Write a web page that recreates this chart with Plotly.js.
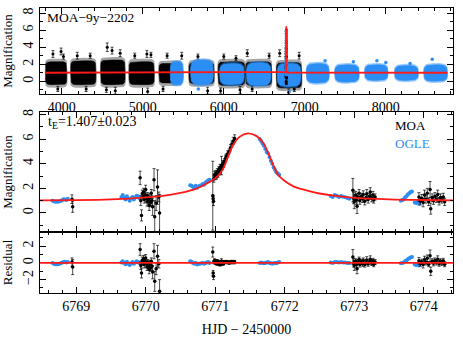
<!DOCTYPE html>
<html>
<head>
<meta charset="utf-8">
<script src="https://cdn.plot.ly/plotly-3.0.1.min.js"></script>
<style>
  html, body { margin: 0; padding: 0; background: white; }
  #chart { width: 463px; height: 341px; }
</style>
</head>
<body>
<div id="chart"></div>
<script>
// --- overview panel: observing seasons (HJD-2450000) and the spread of the cloud ---
const moaSeasonStart = [3800, 4110, 4480, 4830, 5200, 5570, 5930, 6270, 6650];
const moaSeasonEnd   = [4060, 4420, 4780, 5140, 5480, 5880, 6260, 6590, 6960];
const moaSeasonLo    = [-0.4, -0.4, -0.4, -0.4, -0.2, -0.3, -0.5, -0.5, -0.8];
const moaSeasonHi    = [2.3, 2.4, 2.5, 2.3, 2.1, 2.2, 2.3, 2.3, 2.2];

const ogleSeasonStart = [5340, 5590, 5950, 6280, 6660, 7020, 7370, 7740, 8110, 8470];
const ogleSeasonEnd   = [5500, 5870, 6250, 6580, 6950, 7300, 7670, 8025, 8400, 8760];
const ogleSeasonLo    = [-0.4, -0.4, -0.4, -0.5, -0.6, -0.2, -0.1, 0.1, 0.1, 0.0];
const ogleSeasonHi    = [2.3, 2.5, 2.1, 2.2, 2.1, 2.1, 1.95, 1.95, 1.85, 1.95];

// stray points sticking out of the clouds
const topMoaT = [3890, 3990, 4020, 3950, 4190, 4350, 4300, 4560, 4620, 4720, 4550, 4660, 4900, 5050, 5100, 5060,
                 5300, 5480, 5250, 5680, 5800, 6000, 6150, 6200, 5960, 6290, 6560, 6350, 6690, 6930, 6800, 6870];
const topMoaA = [3.2, 3.5, 2.9, -0.9, 3.0, 3.0, -0.9, 4.0, 3.6, 3.3, -1.0, -1.1, 3.0, 3.2, 3.1, -1.2,
                 3.0, 3.0, -0.9, 2.9, -1.1, 2.9, 2.7, -1.0, -1.1, 3.3, 3.0, -0.9, 3.3, 3.0, -1.3, -0.9];
const topMoaE = [0.4, 0.4, 0.3, 0.3, 0.4, 0.3, 0.3, 0.5, 0.4, 0.4, 0.3, 0.4, 0.3, 0.4, 0.3, 0.4,
                 0.3, 0.4, 0.3, 0.3, 0.4, 0.3, 0.3, 0.4, 0.3, 0.4, 0.3, 0.3, 0.4, 0.4, 0.4, 0.3];
const topOgleT = [5685, 6806, 7250, 7890, 8000, 8573, 8300, 7600];
const topOgleA = [-0.9, -1.2, 2.4, 2.4, 2.2, 2.6, 2.1, 2.3];

// --- best-fit model (magnification) ---
const modelT = [6768.40, 6769.00, 6769.50, 6770.00, 6770.30, 6770.50, 6770.73, 6770.87, 6771.01, 6771.11,
                6771.18, 6771.25, 6771.35, 6771.47, 6771.59, 6771.69, 6771.76, 6771.83, 6771.90, 6772.00,
                6772.14, 6772.30, 6772.50, 6772.70, 6773.00, 6773.50, 6774.00, 6774.45];
const modelA = [1.02, 1.04, 1.10, 1.26, 1.42, 1.62, 1.98, 2.37, 2.86, 3.54,
                4.49, 5.44, 6.18, 6.47, 6.26, 5.71, 4.90, 3.94, 3.13, 2.59,
                2.12, 1.85, 1.58, 1.40, 1.22, 1.10, 1.05, 1.02];
const baselineT = [3800, 8760];

// --- OGLE photometry around the peak ---
const ogleT = [6768.66, 6768.68, 6768.70, 6768.72, 6768.74, 6768.76, 6768.78, 6768.80, 6768.82, 6768.84, 6768.86, 6768.88,
               6769.65, 6769.67, 6769.69, 6769.71, 6769.73, 6769.75, 6769.77, 6769.79, 6769.81, 6769.83, 6769.85, 6769.87, 6769.89, 6769.91,
               6770.64, 6770.66, 6770.68, 6770.70, 6770.72, 6770.74, 6770.76, 6770.78, 6770.80, 6770.82, 6770.84, 6770.86, 6770.88, 6770.90, 6770.92,
               6771.64, 6771.66, 6771.68, 6771.70, 6771.72, 6771.74, 6771.76, 6771.78, 6771.80, 6771.82, 6771.84, 6771.86, 6771.88, 6771.90, 6771.92,
               6772.66, 6772.69, 6772.72, 6772.75, 6772.78, 6772.81, 6772.84, 6772.87, 6772.90, 6772.93,
               6773.67, 6773.69, 6773.71, 6773.73, 6773.75, 6773.77, 6773.79, 6773.81, 6773.83, 6773.87, 6773.89, 6773.91, 6773.93];
const ogleA = [1.00, 0.95, 0.90, 0.92, 0.90, 0.95, 0.98, 1.05, 1.12, 1.10, 1.05, 1.15,
               1.30, 1.45, 1.25, 1.10, 1.35, 1.15, 1.00, 1.20, 1.30, 1.10, 1.25, 1.40, 1.35, 1.20,
               2.25, 2.20, 2.10, 2.05, 2.20, 2.05, 2.15, 2.20, 2.25, 2.35, 2.30, 2.45, 2.55, 2.65, 2.70,
               6.00, 5.85, 5.65, 5.45, 5.20, 4.95, 4.85, 4.55, 4.25, 4.00, 3.70, 3.50, 3.30, 3.20, 3.10,
               1.38, 1.30, 1.45, 1.40, 1.30, 1.38, 1.32, 1.28, 1.22, 1.15,
               1.00, 1.05, 1.10, 1.25, 1.35, 1.50, 1.60, 1.70, 1.75, 0.85, 0.80, 0.90, 0.75];
const ogleRes = [0.00, -0.10, -0.15, -0.15, -0.15, -0.10, -0.05, 0.05, 0.10, 0.15, 0.05, 0.10,
                 0.05, 0.20, 0.00, -0.15, 0.15, -0.10, -0.25, -0.05, 0.10, -0.10, 0.05, 0.20, 0.10, -0.05,
                 0.20, 0.15, 0.00, -0.10, 0.00, -0.20, -0.10, -0.10, -0.05, 0.00, -0.10, 0.00, 0.05, 0.10, 0.00,
                 0.00, 0.05, 0.00, -0.05, 0.00, 0.05, 0.10, 0.00, -0.05, -0.10, -0.05, 0.00, -0.05, 0.05, 0.10,
                 0.05, 0.00, 0.10, 0.10, 0.05, 0.10, 0.05, 0.05, 0.00, 0.00,
                 -0.05, 0.00, 0.05, 0.20, 0.30, 0.45, 0.55, 0.65, 0.70, -0.20, -0.25, -0.15, -0.30];

// --- MOA photometry around the peak ---
const moaT = [6768.94, 6768.95,
              6769.92, 6769.93, 6769.94, 6769.95, 6769.96, 6769.97, 6769.98, 6769.99, 6770.00, 6770.01, 6770.02, 6770.03,
              6770.04, 6770.05, 6770.06, 6770.07, 6770.08, 6770.09, 6770.10, 6770.12, 6770.13, 6770.15, 6770.17, 6770.19, 6770.20,
              6770.965, 6770.97, 6770.975, 6770.98, 6770.99, 6771.00, 6771.01, 6771.02, 6771.03, 6771.04, 6771.05, 6771.06,
              6771.07, 6771.08, 6771.09, 6771.10, 6771.11, 6771.12, 6771.13, 6771.15, 6771.16, 6771.18, 6771.20, 6771.22,
              6771.24, 6771.26, 6771.28,
              6772.98, 6772.99, 6773.00, 6773.02, 6773.03, 6773.04, 6773.05, 6773.07, 6773.08, 6773.10, 6773.12, 6773.13,
              6773.15, 6773.17, 6773.18, 6773.20, 6773.22, 6773.23, 6773.25, 6773.27, 6773.28, 6773.30,
              6773.93, 6773.95, 6773.97, 6773.99, 6774.01, 6774.03, 6774.05, 6774.07, 6774.09, 6774.10, 6774.12, 6774.14,
              6774.16, 6774.18, 6774.20, 6774.22, 6774.24, 6774.26, 6774.28, 6774.30];
const moaA = [1.12, 0.50,
              2.85, 1.00, -0.20, 1.55, 1.30, 1.70, 1.10, 1.45, 1.90, 1.20, 0.90, 1.40,
              1.05, 0.60, 1.25, 0.85, 1.60, 1.00, 0.50, 2.70, -0.30, 0.80, 2.10, 1.30, 0.00,
              1.40, 1.15, 0.95, 2.75, 3.10, 2.90, 3.20, 2.95, 3.35, 3.10, 3.50, 3.30,
              3.70, 3.50, 3.85, 3.70, 4.00, 3.90, 4.20, 4.45, 4.60, 4.80, 5.00, 5.30,
              5.60, 5.85, 6.05,
              1.85, 1.20, 0.90, 1.45, 1.05, 0.55, 1.30, 1.60, 1.00, 1.35, 1.15, 1.50,
              0.95, 1.25, 1.55, 1.10, 1.35, 1.70, 1.20, 1.45, 1.05, 1.30,
              1.30, 0.95, 1.20, 0.85, 1.45, 1.10, 1.60, 0.90, 1.90, 0.35, 1.25, 1.00,
              1.35, 1.10, 1.50, 0.95, 1.25, 1.05, 1.30, 0.90];
const moaErr = [0.35, 0.45,
                0.55, 0.40, 0.45, 0.30, 0.25, 0.30, 0.30, 0.25, 0.35, 0.30, 0.35, 0.25,
                0.30, 0.40, 0.30, 0.35, 0.30, 0.40, 0.70, 0.90, 1.30, 0.60, 1.40, 0.40, 1.50,
                2.80, 0.30, 0.35, 0.25, 0.30, 0.20, 0.25, 0.20, 0.25, 0.20, 0.25, 0.20,
                0.25, 0.20, 0.75, 0.20, 0.25, 0.20, 0.20, 0.25, 0.20, 0.25, 0.20, 0.25,
                0.25, 0.30, 0.30,
                0.95, 0.45, 0.55, 0.30, 0.35, 0.60, 0.30, 0.30, 0.30, 0.25, 0.30, 0.30,
                0.30, 0.25, 0.35, 0.30, 0.25, 0.35, 0.30, 0.30, 0.25, 0.25,
                0.35, 0.30, 0.30, 0.35, 0.40, 0.30, 0.40, 0.30, 0.65, 0.45, 0.30, 0.30,
                0.30, 0.25, 0.35, 0.30, 0.30, 0.25, 0.30, 0.30];
const moaRes = [0.10, -0.50,
                1.60, -0.30, -1.20, 0.30, 0.00, 0.50, -0.20, 0.20, 0.60, -0.10, -0.50, 0.10,
                -0.30, -0.80, -0.10, -0.60, 0.20, -0.40, -1.10, 1.40, -2.20, -0.70, 0.80, -0.10, -3.40,
                1.30, -1.20, -1.60, 0.10, 0.30, 0.00, 0.20, -0.10, 0.20, -0.10, 0.10, -0.20,
                0.10, -0.20, 0.20, -0.10, 0.10, -0.10, 0.10, 0.10, 0.10, 0.10, 0.00, 0.10,
                0.10, 0.10, 0.10,
                0.70, 0.00, -0.30, 0.20, -0.20, -0.70, 0.10, 0.40, -0.20, 0.15, -0.10, 0.30,
                -0.20, 0.05, 0.35, -0.10, 0.15, 0.45, 0.00, 0.25, -0.15, 0.10,
                0.25, -0.10, 0.15, -0.20, 0.40, 0.05, 0.55, -0.15, 0.85, -1.00, 0.20, -0.05,
                0.30, 0.05, 0.45, -0.10, 0.20, 0.00, 0.25, -0.15];
const moaResErr = [0.5, 0.9,
                   0.7, 0.5, 0.6, 0.4, 0.3, 0.4, 0.4, 0.3, 0.4, 0.4, 0.4, 0.3,
                   0.4, 0.5, 0.4, 0.4, 0.4, 0.5, 0.8, 0.9, 1.2, 0.7, 1.3, 0.5, 1.4,
                   0.6, 0.3, 0.4, 0.2, 0.2, 0.15, 0.2, 0.15, 0.2, 0.15, 0.2, 0.15,
                   0.2, 0.15, 0.3, 0.15, 0.2, 0.15, 0.15, 0.2, 0.15, 0.2, 0.15, 0.2,
                   0.2, 0.2, 0.2,
                   0.9, 0.5, 0.6, 0.3, 0.4, 0.6, 0.3, 0.3, 0.3, 0.3, 0.3, 0.3,
                   0.3, 0.3, 0.4, 0.3, 0.3, 0.4, 0.3, 0.3, 0.3, 0.3,
                   0.4, 0.3, 0.3, 0.4, 0.4, 0.3, 0.4, 0.3, 0.7, 0.5, 0.3, 0.3,
                   0.3, 0.3, 0.4, 0.3, 0.3, 0.3, 0.3, 0.3];

const SERIF = 'Liberation Serif, Times New Roman, serif';
const BLUE = '#2b8ef5';
const RED = '#ff1a1a';

// outline of a season's point cloud, a rounded box around its extent
function cloud(s, e, lo, hi, p) {
    const cx = (s + e) / 2, hw = (e - s) / 2, cy = (lo + hi) / 2, hh = (hi - lo) / 2;
    const xs = [], ys = [];
    for (let k = 0; k <= 48; k++) {
        const th = 2 * Math.PI * k / 48, c = Math.cos(th), sn = Math.sin(th);
        xs.push(cx + hw * Math.sign(c) * Math.pow(Math.abs(c), p));
        ys.push(cy + hh * Math.sign(sn) * Math.pow(Math.abs(sn), p));
    }
    return { xs, ys };
}

const traces = [];

// MOA clouds: a soft fringe of scattered points, then the dense core
moaSeasonStart.forEach((s, i) => {
    const halo = cloud(s - 10, moaSeasonEnd[i] + 10, moaSeasonLo[i] - 0.35, moaSeasonHi[i] + 0.35, 0.3);
    traces.push({ x: halo.xs, y: halo.ys, xaxis: 'x', yaxis: 'y', mode: 'lines', fill: 'toself',
        fillcolor: 'rgba(0,0,0,0.35)', line: { width: 0 } });
    const c = cloud(s, moaSeasonEnd[i], moaSeasonLo[i], moaSeasonHi[i], 0.3);
    traces.push({ x: c.xs, y: c.ys, xaxis: 'x', yaxis: 'y', mode: 'lines', fill: 'toself',
        fillcolor: '#000', line: { color: '#000', width: 0.5 } });
});
traces.push({ x: topMoaT, y: topMoaA, xaxis: 'x', yaxis: 'y', mode: 'markers', type: 'scatter',
    marker: { color: '#000', size: 3 },
    error_y: { type: 'data', array: topMoaE, color: '#000', thickness: 0.7, width: 1.5 } });

ogleSeasonStart.forEach((s, i) => {
    const halo = cloud(s - 8, ogleSeasonEnd[i] + 8, ogleSeasonLo[i] - 0.2, ogleSeasonHi[i] + 0.2, 0.55);
    traces.push({ x: halo.xs, y: halo.ys, xaxis: 'x', yaxis: 'y', mode: 'lines', fill: 'toself',
        fillcolor: 'rgba(43,142,245,0.45)', line: { width: 0 } });
    const c = cloud(s, ogleSeasonEnd[i], ogleSeasonLo[i], ogleSeasonHi[i], 0.55);
    traces.push({ x: c.xs, y: c.ys, xaxis: 'x', yaxis: 'y', mode: 'lines', fill: 'toself',
        fillcolor: BLUE, line: { color: BLUE, width: 0.5 } });
});
traces.push({ x: topOgleT, y: topOgleA, xaxis: 'x', yaxis: 'y', mode: 'markers',
    marker: { color: BLUE, size: 3.5 } });

// the event itself in the overview
traces.push({ x: moaT, y: moaA, xaxis: 'x', yaxis: 'y', mode: 'markers', marker: { color: '#000', size: 3 } });
traces.push({ x: ogleT, y: ogleA, xaxis: 'x', yaxis: 'y', mode: 'markers', marker: { color: BLUE, size: 3 } });
traces.push({ x: [baselineT[0], ...modelT, baselineT[1]], y: [1, ...modelA, 1], xaxis: 'x', yaxis: 'y',
    mode: 'lines', line: { color: RED, width: 1.8 } });

// zoom on the peak
traces.push({ x: ogleT, y: ogleA, xaxis: 'x2', yaxis: 'y2', mode: 'markers',
    marker: { color: BLUE, size: 4 } });
traces.push({ x: moaT, y: moaA, xaxis: 'x2', yaxis: 'y2', mode: 'markers',
    marker: { color: '#000', size: 3.5 },
    error_y: { type: 'data', array: moaErr, color: '#000', thickness: 0.7, width: 1.5 } });
traces.push({ x: modelT, y: modelA, xaxis: 'x2', yaxis: 'y2', mode: 'lines',
    line: { color: RED, width: 1.8, shape: 'spline', smoothing: 0.8 } });

// residuals
traces.push({ x: ogleT, y: ogleRes, xaxis: 'x3', yaxis: 'y3', mode: 'markers',
    marker: { color: BLUE, size: 4 } });
traces.push({ x: moaT, y: moaRes, xaxis: 'x3', yaxis: 'y3', mode: 'markers',
    marker: { color: '#000', size: 3.5 },
    error_y: { type: 'data', array: moaResErr, color: '#000', thickness: 0.7, width: 1.5 } });

const axisBase = {
    showline: true, mirror: 'ticks', linecolor: '#000', linewidth: 1,
    ticks: 'inside', ticklen: 6, tickcolor: '#000', tickwidth: 1,
    showgrid: false, zeroline: false, exponentformat: 'none',
    tickfont: { family: SERIF, size: 14, color: '#000' }
};
const minorTicks = (d) => ({ ticks: 'inside', ticklen: 3, dtick: d, tickcolor: '#000', showgrid: false });
const yTitle = (t) => ({ text: t, font: { family: SERIF, size: 13, color: '#000' }, standoff: 5 });

const layout = {
    width: 463, height: 341,
    margin: { l: 40, r: 10, t: 8, b: 48 },
    paper_bgcolor: 'white', plot_bgcolor: 'white',
    showlegend: false, hovermode: false,
    font: { family: SERIF, size: 13, color: '#000' },
    xaxis: { ...axisBase, domain: [0, 1], anchor: 'y', range: [3730, 8830], dtick: 1000, tick0: 0,
        minor: minorTicks(200) },
    yaxis: { ...axisBase, domain: [0.698, 1], anchor: 'x', range: [-1.5, 8.6], dtick: 2, tick0: 0,
        tickangle: -90, minor: minorTicks(1), title: yTitle('Magnification') },
    xaxis2: { ...axisBase, domain: [0, 1], anchor: 'y2', range: [6768.48, 6774.42], dtick: 1, tick0: 0,
        showticklabels: false, minor: minorTicks(0.2) },
    yaxis2: { ...axisBase, domain: [0.214, 0.635], anchor: 'x2', range: [-1.55, 8.2], dtick: 2, tick0: 0,
        tickangle: -90, minor: minorTicks(1), title: yTitle('Magnification') },
    xaxis3: { ...axisBase, domain: [0, 1], anchor: 'y3', range: [6768.48, 6774.42], dtick: 1, tick0: 0,
        minor: minorTicks(0.2),
        title: { text: 'HJD − 2450000', font: { family: SERIF, size: 14, color: '#000' }, standoff: 11 } },
    yaxis3: { ...axisBase, domain: [0, 0.214], anchor: 'x3', range: [-3.6, 3.7], dtick: 2, tick0: 0,
        tickangle: -90, minor: minorTicks(1), title: yTitle('Residual') },
    shapes: [
        { type: 'line', xref: 'x3 domain', x0: 0, x1: 1, yref: 'y3', y0: 0, y1: 0,
          line: { color: RED, width: 1.8 } }
    ],
    annotations: [
        { text: 'MOA−9y−2202', xref: 'paper', yref: 'paper', x: 0.012, y: 0.968,
          xanchor: 'left', yanchor: 'middle', showarrow: false, font: { size: 13.5 } },
        { text: 't<sub>E</sub>=1.407±0.023', xref: 'paper', yref: 'paper', x: 0.015, y: 0.598,
          xanchor: 'left', yanchor: 'middle', showarrow: false, font: { size: 14 } },
        { text: 'MOA', xref: 'paper', yref: 'paper', x: 0.855, y: 0.589,
          xanchor: 'left', yanchor: 'middle', showarrow: false, font: { size: 13, color: '#000' } },
        { text: 'OGLE', xref: 'paper', yref: 'paper', x: 0.855, y: 0.526,
          xanchor: 'left', yanchor: 'middle', showarrow: false, font: { size: 13, color: BLUE } }
    ]
};

Plotly.newPlot('chart', traces, layout, { displayModeBar: false, staticPlot: true });
</script>
</body>
</html>
